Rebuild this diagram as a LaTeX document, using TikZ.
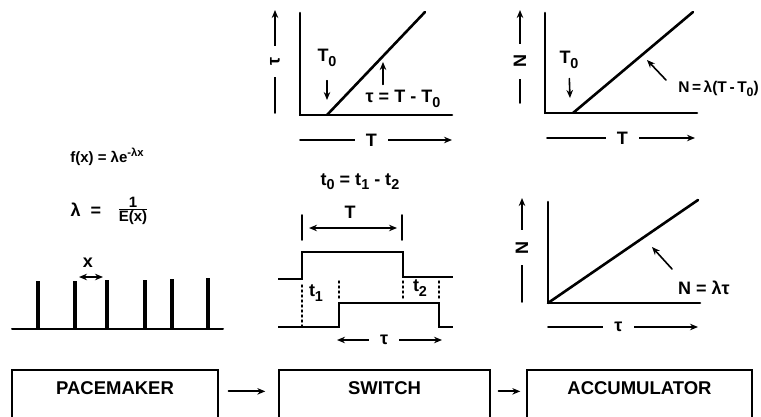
\documentclass[tikz,border=0pt]{standalone}
\usepackage{fontspec}
\setmainfont{Liberation Sans}
\usepackage{graphicx}
\usetikzlibrary{arrows.meta}
\newcommand\dn[1]{\raisebox{-0.45ex}{\scalebox{0.8}{#1}}}
\newcommand\up[1]{\raisebox{0.75ex}{\scalebox{0.75}{#1}}}

\begin{document}
\begin{tikzpicture}[x=1pt,y=-1pt,>={Stealth[length=8pt,width=6.5pt]},line cap=round,
  blk/.style={draw,line width=1.4pt,minimum width=#1,text height=13pt,text depth=30pt,inner ysep=11pt,font=\fontsize{18.5}{22}\selectfont\bfseries},
  lbl/.style={font=\fontsize{18}{20}\selectfont\bfseries,inner sep=1pt},
  axlbl/.style={lbl,fill=white,inner xsep=11pt,inner ysep=1pt},
  ax/.style={line width=2.6pt},
  scl/.style={line width=1.6pt},
  wave/.style={line width=2.4pt,line join=miter,line cap=butt},
  dots/.style={line width=1.4pt,dash pattern=on 2pt off 3pt},
  pulse/.style={line width=4.6pt,line cap=butt}]
\useasboundingbox (0,0) rectangle (761,416);

% blocks
\node[blk=206,anchor=base] (pace) at (115,394) {PACEMAKER};
\node[blk=211,anchor=base] (sw) at (384.5,394) {SWITCH};
\node[blk=225,anchor=base] (acc) at (639.5,394) {ACCUMULATOR};
\draw[line width=2pt,->,shorten <=10pt,shorten >=13pt] (pace.mid east) -- (sw.mid west);
\draw[line width=2pt,->,shorten <=8pt,shorten >=6pt] (sw.mid east) -- (acc.mid west);

% pacemaker pulses
\node[lbl,font=\fontsize{15}{17}\selectfont\bfseries] (fx) at (107,157) {f(x) = λe\up{-λx}};
\node[lbl] (lam) at (86,210) {λ\ \ =};
\node[lbl,font=\fontsize{15}{17}\selectfont\bfseries] (frac) at (133,211) {\begin{tabular}{@{}c@{}}1\\[-3pt]\hline\rule{0pt}{12pt}E(x)\end{tabular}};
\draw[line width=2pt] (12,329) -- (223,329);
\draw[pulse] (38,329) -- (38,281);
\draw[pulse] (75,329) -- (75,281);
\draw[pulse] (107,329) -- (107,280);
\draw[pulse] (145,329) -- (145,280);
\draw[pulse] (172,329) -- (172,279);
\draw[pulse] (208,329) -- (208,278);
\node[lbl] (xl) at (88,263) {x};
\coordinate (xa) at (75,277);
\coordinate (xb) at (107,277);
\draw[scl,<->,shorten <=4pt,shorten >=4pt] (xa) -- (xb);

% switch: tau against T
\draw[ax] (300,13) -- (300,115) -- (452,115);
\draw[ax] (327,115) -- (425,12);
\draw[scl,->] (275,113) -- node[axlbl,rotate=90,pos=0.5] (tauy) {τ} (275,10);
\draw[scl,->] (300,140) -- node[axlbl,pos=0.47] (tx1) {T} (452,140);
\node[lbl] (tz1) at (327,58) {T\dn{0}};
\coordinate (tz1e) at (327,100);
\draw[scl,->,shorten <=13pt] (tz1.south) -- (tz1e);
\node[lbl] (teq) at (403,99) {τ = T - T\dn{0}};
\coordinate (tip1) at (383,62);
\draw[scl,->,shorten <=5pt] ([xshift=-20pt]teq.north) -- (tip1);
\node[lbl] (tdef) at (360,182) {t\dn{0} = t\dn{1} - t\dn{2}};

% switch timing
\node[lbl] (tw) at (350,212) {T};
\draw[scl] (302,215) -- (302,240);
\draw[scl] (402,215) -- (402,240);
\coordinate (ta) at (302,228);
\coordinate (tb) at (402,228);
\draw[scl,<->,shorten <=7pt,shorten >=5pt] (ta) -- (tb);
\draw[wave] (278,279) -- (302,279) -- (302,252) -- (403,252) -- (403,277) -- (453,277);
\draw[wave] (278,327) -- (339,327) -- (339,303) -- (439,303) -- (439,327) -- (453,327);
\draw[dots] (302,285) -- (302,327);
\draw[dots] (339,281) -- (339,300);
\draw[dots] (403,281) -- (403,300);
\draw[dots] (439,281) -- (439,300);
\node[lbl] (t1) at (316,293) {t\dn{1}};
\node[lbl] (t2) at (420,288) {t\dn{2}};
\draw[scl,<->] (337,340) -- node[axlbl,pos=0.45] (tw2) {τ} (442,340);

% accumulator: N against T
\draw[ax] (545,13) -- (545,113) -- (697,113);
\draw[ax] (573,113) -- (693,12);
\draw[scl,->] (520,103) -- node[axlbl,rotate=90,pos=0.45] (ny1) {N} (520,10);
\draw[scl,->] (547,138) -- node[axlbl,pos=0.51] (tx2) {T} (695,138);
\node[lbl] (tz2) at (569,60) {T\dn{0}};
\coordinate (tz2e) at (570,98);
\draw[scl,->,shorten <=9pt] (tz2.south) -- (tz2e);
\node[lbl,anchor=east,font=\fontsize{15.5}{18}\selectfont\bfseries] (neq1) at (760,89) {N\,=\,λ(T\,-\,T\dn{0})};
\coordinate (tip2) at (647,60);
\draw[scl,->] ([xshift=-11pt]neq1.north west) -- (tip2);

% accumulator: N against tau
\draw[ax] (548,202) -- (548,303) -- (700,303);
\draw[ax] (548,303) -- (698,200);
\draw[scl,->] (522,302) -- node[axlbl,rotate=90,pos=0.52] (ny2) {N} (522,198);
\draw[scl,->] (548,327) -- node[axlbl,pos=0.47] (tx3) {τ} (698,327);
\node[lbl,anchor=west] (neq2) at (677,288) {N = λτ};
\coordinate (tip3) at (652,247);
\draw[scl,->] ([xshift=-5pt,yshift=11pt]neq2.north west) -- (tip3);
\end{tikzpicture}
\end{document}
